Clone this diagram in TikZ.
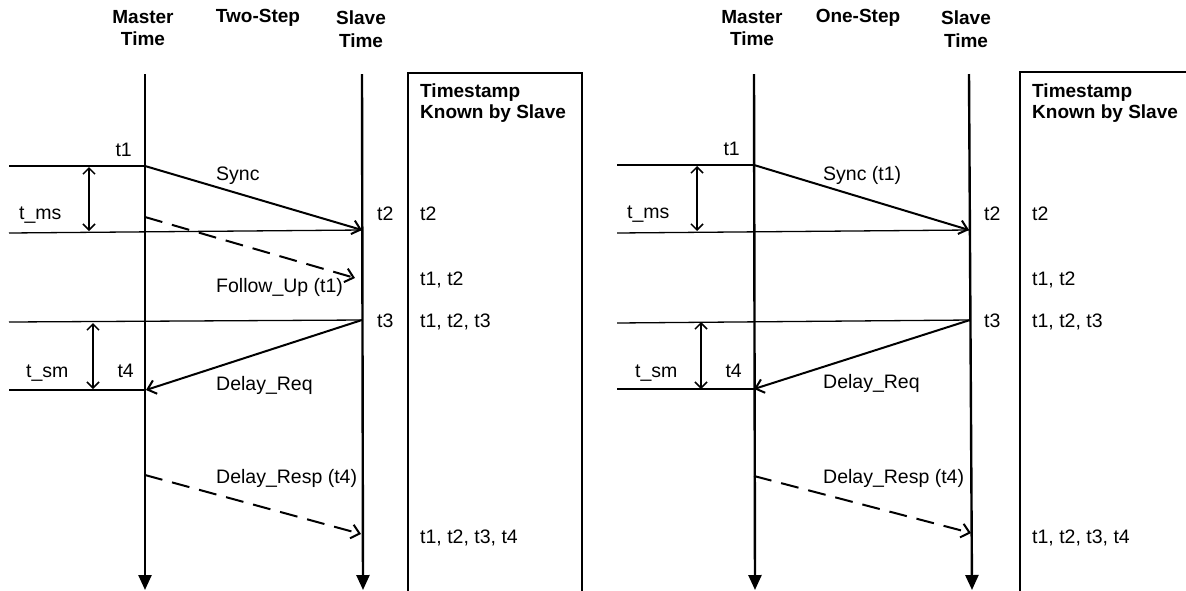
\documentclass[tikz,border=0pt]{standalone}
\usepackage{fontspec}
\setmainfont{Liberation Sans}
\usetikzlibrary{arrows.meta}
\begin{document}
\begin{tikzpicture}[x=1pt,y=-1pt,
  font=\fontsize{19.5}{22}\selectfont,
  lbl/.style={inner sep=0pt, anchor=base west},
  lblr/.style={inner sep=0pt, anchor=base east},
  hdr/.style={inner sep=0pt, anchor=base, font=\fontsize{19}{22}\selectfont\bfseries},
  boxhdr/.style={inner sep=0pt, anchor=base west, font=\fontsize{19}{22}\selectfont\bfseries},
  timeline/.style={line width=2.4pt, -{Triangle[length=15pt,width=13pt]}},
  msg/.style={line width=2pt, -{Straight Barb[length=8pt,width=14pt]}},
  dmsg/.style={msg, dash pattern=on 18pt off 10pt},
  refline/.style={line width=1.3pt},
  span/.style={line width=1.5pt, {Straight Barb[length=6pt,width=12pt]}-{Straight Barb[length=6pt,width=12pt]}},
  tsbox/.style={line width=1.6pt}]
\clip (0,0) rectangle (1186,590);
\useasboundingbox (0,0) rectangle (1186,590);

% ---------------- Left: Two-Step ----------------
\node[hdr] (lmh1) at (143,23) {Master};
\node[hdr] (lmh2) at (143,45) {Time};
\node[hdr] (lth)  at (258,22) {Two-Step};
\node[hdr] (lsh1) at (361,24) {Slave};
\node[hdr] (lsh2) at (361,47) {Time};

\coordinate (lmtop) at (145,74);
\coordinate (lmbot) at (145,590);
\coordinate (lstop) at (362,74);
\coordinate (lsbot) at (363,590);
\draw[timeline] (lmtop) -- (lmbot);
\draw[timeline] (lstop) -- (lsbot);

\coordinate (lA) at (145,166);
\coordinate (lB) at (362,230);
\coordinate (lC) at (145,217);
\coordinate (lD) at (355,278);
\coordinate (lE) at (362,320);
\coordinate (lF) at (146,390);
\coordinate (lG) at (145,475);
\coordinate (lH) at (361,534);

\coordinate (lh1) at (9,166);
\coordinate (lh2) at (9,233);
\coordinate (lh3) at (9,322);
\coordinate (lh4) at (9,390);
\draw[refline] (lh1) -- (lA);
\draw[refline] (lh2) -- (lB);
\draw[refline] (lh3) -- (lE);
\draw[refline] (lh4) -- (lF);

\coordinate (lms1) at (89,167);
\coordinate (lms2) at (89,231);
\coordinate (lsm1) at (93,323);
\coordinate (lsm2) at (93,389);
\draw[span] (lms1) -- (lms2);
\draw[span] (lsm1) -- (lsm2);

\draw[msg]  (lA) -- (lB);
\draw[dmsg] (lC) -- (lD);
\draw[msg]  (lE) -- (lF);
\draw[dmsg] (lG) -- (lH);

\node[lblr] (lt1) at (132,156) {t1};
\node[lblr] (lt4) at (134,377) {t4};
\node[lbl] (ltms) at (19,219) {t\_ms};
\node[lbl] (ltsm) at (26,377) {t\_sm};
\node[lbl] (lt2) at (377,220) {t2};
\node[lbl] (lt3) at (377,327) {t3};
\node[lbl] (lsync) at (216,180) {Sync};
\node[lbl] (lfu) at (216,292) {Follow\_Up (t1)};
\node[lbl] (ldrq) at (216,390) {Delay\_Req};
\node[lbl] (ldrs) at (216,483) {Delay\_Resp (t4)};

\draw[tsbox] (408,600) -- (408,73) -- (582,73) -- (582,600);
\node[boxhdr] (lbh1) at (420,97) {Timestamp};
\node[boxhdr] (lbh2) at (420,118) {Known by Slave};
\node[lbl] (lr1) at (420,220) {t2};
\node[lbl] (lr2) at (420,285) {t1, t2};
\node[lbl] (lr3) at (420,327) {t1, t2, t3};
\node[lbl] (lr4) at (420,543) {t1, t2, t3, t4};

% ---------------- Right: One-Step ----------------
\node[hdr] (rmh1) at (752,23) {Master};
\node[hdr] (rmh2) at (752,45) {Time};
\node[hdr] (roh)  at (858,22) {One-Step};
\node[hdr] (rsh1) at (966,24) {Slave};
\node[hdr] (rsh2) at (966,47) {Time};

\coordinate (rmtop) at (754,74);
\coordinate (rmbot) at (755,590);
\coordinate (rstop) at (969,74);
\coordinate (rsbot) at (972,590);
\draw[timeline] (rmtop) -- (rmbot);
\draw[timeline] (rstop) -- (rsbot);

\coordinate (rA) at (754,165);
\coordinate (rB) at (969,230);
\coordinate (rE) at (970,320);
\coordinate (rF) at (754,389);
\coordinate (rG) at (754,476);
\coordinate (rH) at (971,533);

\coordinate (rh1) at (617,165);
\coordinate (rh2) at (617,233);
\coordinate (rh3) at (617,323);
\coordinate (rh4) at (617,389);
\draw[refline] (rh1) -- (rA);
\draw[refline] (rh2) -- (rB);
\draw[refline] (rh3) -- (rE);
\draw[refline] (rh4) -- (rF);

\coordinate (rms1) at (697,166);
\coordinate (rms2) at (697,231);
\coordinate (rsm1) at (701,322);
\coordinate (rsm2) at (701,389);
\draw[span] (rms1) -- (rms2);
\draw[span] (rsm1) -- (rsm2);

\draw[msg]  (rA) -- (rB);
\draw[msg]  (rE) -- (rF);
\draw[dmsg] (rG) -- (rH);

\node[lblr] (rt1) at (740,155) {t1};
\node[lblr] (rt4) at (742,377) {t4};
\node[lbl] (rtms) at (627,218) {t\_ms};
\node[lbl] (rtsm) at (635,377) {t\_sm};
\node[lbl] (rt2) at (984,220) {t2};
\node[lbl] (rt3) at (984,327) {t3};
\node[lbl] (rsync) at (823,180) {Sync (t1)};
\node[lbl] (rdrq) at (823,388) {Delay\_Req};
\node[lbl] (rdrs) at (823,483) {Delay\_Resp (t4)};

\draw[tsbox] (1020,600) -- (1020,72) -- (1200,72);
\node[boxhdr] (rbh1) at (1032,97) {Timestamp};
\node[boxhdr] (rbh2) at (1032,118) {Known by Slave};
\node[lbl] (rr1) at (1032,220) {t2};
\node[lbl] (rr2) at (1032,285) {t1, t2};
\node[lbl] (rr3) at (1032,327) {t1, t2, t3};
\node[lbl] (rr4) at (1032,543) {t1, t2, t3, t4};
\end{tikzpicture}
\end{document}
